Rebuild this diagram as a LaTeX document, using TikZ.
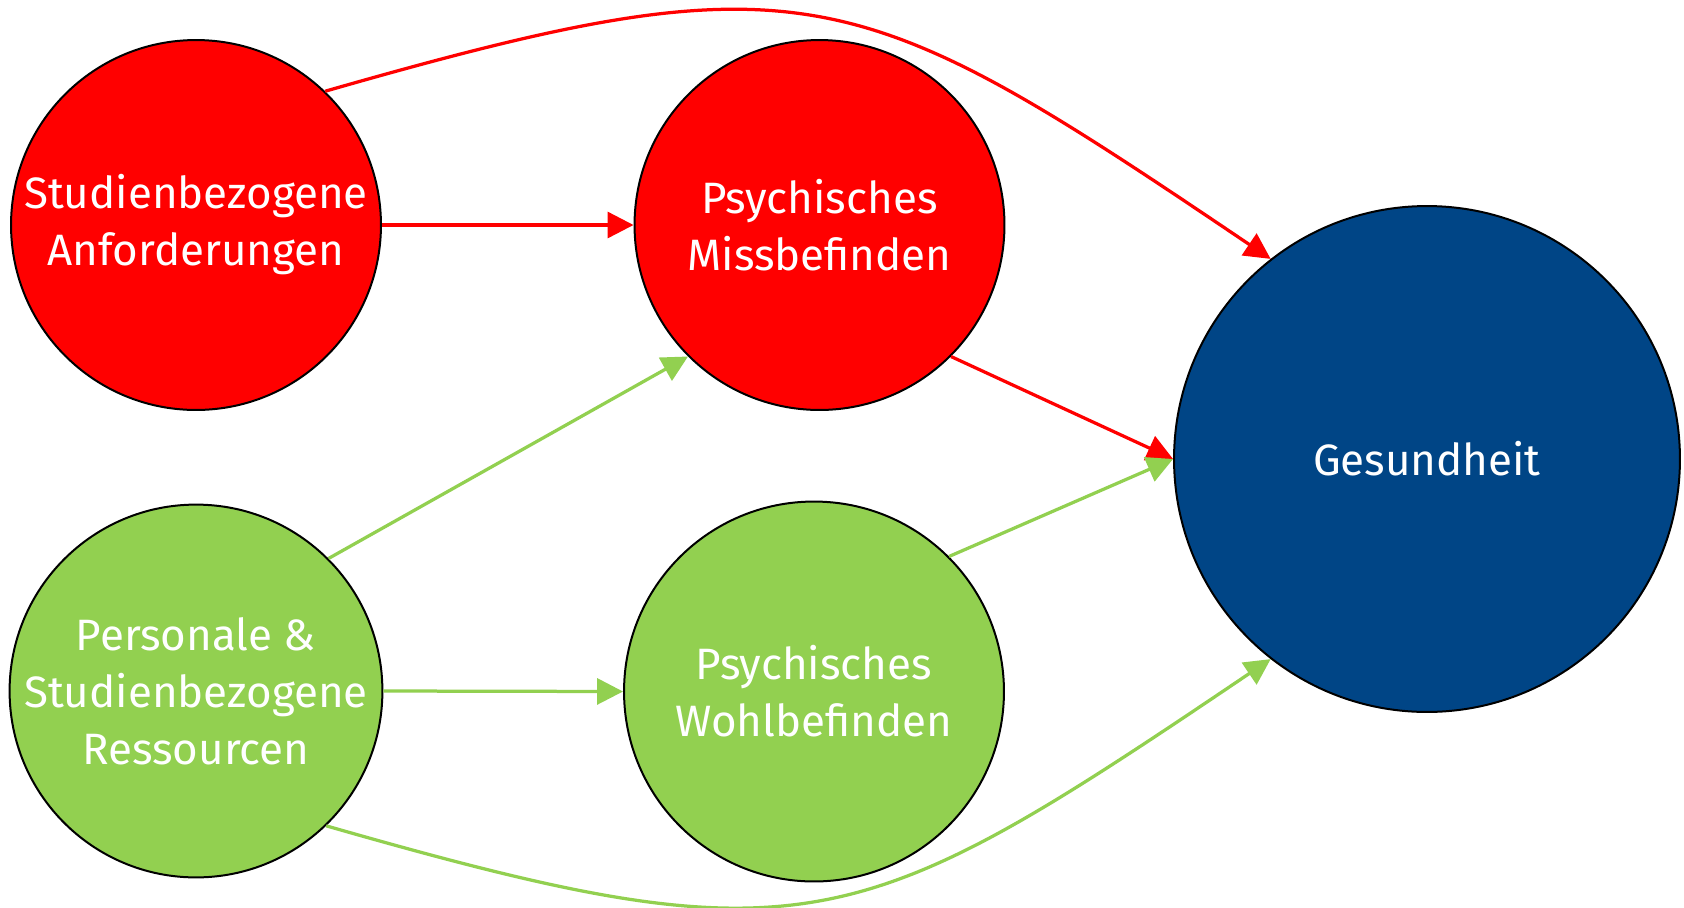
\documentclass[tikz,border=0pt]{standalone}
\usepackage{fontspec}
\setmainfont{Fira Sans}
\usepackage{tikz}
\usetikzlibrary{arrows.meta}
\definecolor{strainred}{HTML}{FF0000}
\definecolor{resgreen}{HTML}{92D050}
\definecolor{healthblue}{HTML}{004586}
\tikzset{
  factor/.style={circle, draw=black, line width=0.04cm, text=white, align=center, inner sep=0pt,
    font=\fontsize{25}{32.4}\selectfont},
  strainnode/.style={factor, fill=strainred, minimum size=7.4cm},
  resnode/.style={factor, fill=resgreen, minimum size=7.4cm},
  healthnode/.style={factor, fill=healthblue, minimum size=10.12cm},
  arc/.style={-{Triangle[length=0.52cm, width=0.52cm]}, line width=0.065cm},
  redarc/.style={arc, draw=strainred},
  greenarc/.style={arc, draw=resgreen}
}

\begin{document}
\begin{tikzpicture}[x=0.02cm, y=0.02cm]
  \useasboundingbox (0,0) rectangle (1684,-907);

  \node[strainnode] (anf) at (196,-225) {Studienbezogene\\Anforderungen};
  \node[strainnode] (miss) at (819.5,-225) {Psychisches\\Missbefinden};
  \node[resnode] (ress) at (196,-691) {Personale \&\\Studienbezogene\\Ressourcen};
  \node[resnode, minimum size=7.6cm] (wohl) at (814,-691.5) {Psychisches\\Wohlbefinden};
  \node[healthnode] (ges) at (1427,-459) {Gesundheit};

  % Belastungspfad
  \draw[redarc] (anf.east) -- (miss.west);
  \draw[redarc] (miss.-45) -- (ges.west);
  \draw[redarc] (anf.46) to[out=16, in=146, out distance=10cm, in distance=10cm] (ges.128);

  % Ressourcenpfad
  \draw[greenarc] (ress.45) -- (miss.225);
  \draw[greenarc] (ress.east) -- (wohl.west);
  \draw[greenarc] (wohl.45) -- (ges.west);
  \draw[greenarc] (ress.-46) to[out=-16, in=-146, out distance=10cm, in distance=10cm] (ges.-128);
\end{tikzpicture}
\end{document}
